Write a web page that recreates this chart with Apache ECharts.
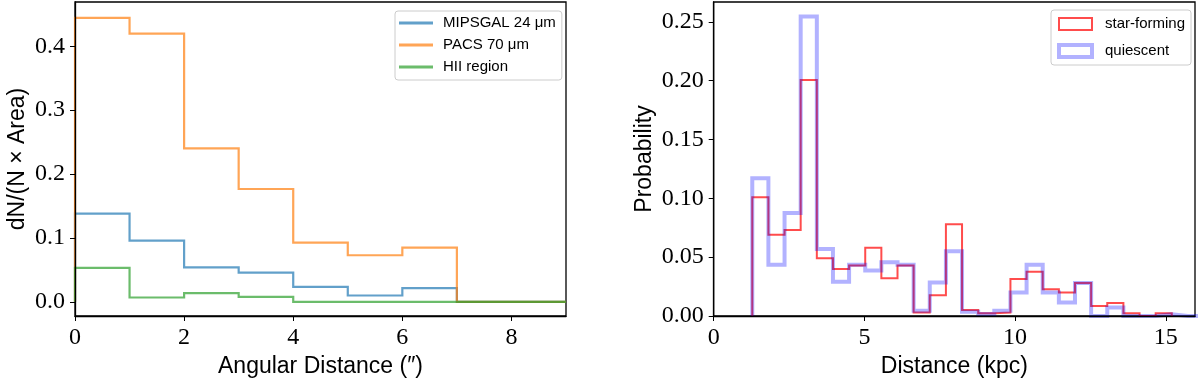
<!DOCTYPE html>
<html>
<head>
<meta charset="utf-8">
<script src="https://cdn.jsdelivr.net/npm/echarts@6/dist/echarts.min.js"></script>
<style>
html,body{margin:0;padding:0;background:#fff;}
#c{width:1200px;height:385px;}
</style>
</head>
<body>
<div id="c"></div>
<script>
// ---- Left panel: angular distance histograms ----
const angEdges = [0, 1, 2, 3, 4, 5, 6, 7, 8, 9];
const mipsgal = [0.138, 0.0958, 0.054, 0.0458, 0.0234, 0.0099, 0.0214, 0, 0];
const pacs = [0.4447, 0.4198, 0.2403, 0.1766, 0.0927, 0.0729, 0.0849, 0, 0];
const hii = [0.053, 0.0068, 0.0135, 0.0078, 0, 0, 0, 0, 0];
const angTicks = [0, 2, 4, 6, 8];
const dnTicks = [0, 0.1, 0.2, 0.3, 0.4];

// ---- Right panel: distance histograms ----
const distEdges = [1.280, 1.815, 2.351, 2.886, 3.422, 3.957, 4.492, 5.028, 5.563, 6.099,
  6.634, 7.169, 7.705, 8.240, 8.776, 9.311, 9.846, 10.382, 10.917, 11.453,
  11.988, 12.523, 13.059, 13.594, 14.130, 14.665, 15.200, 15.736, 16.271];
const starForming = [0.101, 0.069, 0.073, 0.2006, 0.049, 0.040, 0.043, 0.058, 0.032, 0.043,
  0.003, 0.0176, 0.078, 0.005, 0.0023, 0.003, 0.0315, 0.0375, 0.0227, 0.020,
  0.028, 0.0085, 0.011, 0.0023, 0, 0.0023];
const quiescent = [0.117, 0.0435, 0.0875, 0.2545, 0.057, 0.029, 0.0435, 0.0386, 0.0457, 0.0435,
  0.0045, 0.0284, 0.055, 0.0037, 0.0017, 0.0045, 0.020, 0.0435, 0.020, 0.0114,
  0.028, 0, 0.0072, 0, 0, 0.0015, 0, 0];
const distTicks = [0, 5, 10, 15];
const probTicks = [0, 0.05, 0.10, 0.15, 0.20, 0.25];

function outline(edges, vals) {
  const pts = [[edges[0], 0]];
  for (let i = 0; i < vals.length; i++) {
    pts.push([edges[i], vals[i]]);
    pts.push([edges[i + 1], vals[i]]);
  }
  pts.push([edges[vals.length], 0]);
  return pts;
}

const C_BLUE = 'rgba(31,119,180,0.7)';
const C_ORANGE = 'rgba(255,127,14,0.7)';
const C_GREEN = 'rgba(44,160,44,0.7)';
const C_RED = 'rgba(255,0,0,0.7)';
const C_QBLUE = 'rgba(0,0,255,0.3)';

const serif = "'Liberation Serif', 'DejaVu Serif', serif";
const sans = "'Liberation Sans', 'DejaVu Sans', sans-serif";

function xAx(gi, min, max, ticks, name, fmt) {
  return {
    type: 'value', gridIndex: gi, min: min, max: max, z: 5,
    name: name, nameLocation: 'middle', nameGap: 39,
    nameTextStyle: {fontFamily: sans, fontSize: 23, color: '#000'},
    splitLine: {show: false},
    axisLine: {show: true, onZero: false, lineStyle: {color: '#000', width: 1.3}},
    axisTick: {show: true, length: 5, customValues: ticks, lineStyle: {color: '#000', width: 1}},
    axisLabel: {customValues: ticks, margin: 10, fontFamily: serif, fontSize: 24, color: '#000', formatter: fmt}
  };
}
function yAx(gi, min, max, ticks, name, gap, fmt) {
  return {
    type: 'value', gridIndex: gi, min: min, max: max, z: 5,
    name: name, nameLocation: 'middle', nameGap: gap,
    nameTextStyle: {fontFamily: sans, fontSize: 23, color: '#000'},
    splitLine: {show: false},
    axisLine: {show: true, onZero: false, lineStyle: {color: '#000', width: 1.3}},
    axisTick: {show: true, length: 5, customValues: ticks, lineStyle: {color: '#000', width: 1}},
    axisLabel: {customValues: ticks, margin: 10, fontFamily: serif, fontSize: 24, color: '#000', formatter: fmt}
  };
}

function line(name, data, color, width, xi, yi) {
  return {
    name: name, type: 'line', data: data, xAxisIndex: xi, yAxisIndex: yi,
    symbol: 'none', showSymbol: false, animation: false, clip: true,
    color: color, itemStyle: {color: color},
    lineStyle: {color: color, width: width, cap: 'butt', join: 'miter'}
  };
}

const chart = echarts.init(document.getElementById('c'), null, {renderer: 'canvas'});
chart.setOption({
  animation: false,
  backgroundColor: '#fff',
  grid: [
    {left: 75, top: 2, width: 491, height: 314, show: true, borderColor: '#000', borderWidth: 1.3, backgroundColor: 'transparent'},
    {left: 713.7, top: 2, width: 481.3, height: 314, show: true, borderColor: '#000', borderWidth: 1.3, backgroundColor: 'transparent'}
  ],
  xAxis: [
    xAx(0, 0, 9, angTicks, 'Angular Distance (\u2033)', v => String(v)),
    xAx(1, 0, 15.97, distTicks, 'Distance (kpc)', v => String(v))
  ],
  yAxis: [
    yAx(0, -0.0222, 0.4694, dnTicks, 'dN/(N \u00d7 Area)', 46, v => v.toFixed(1)),
    yAx(1, 0, 0.2668, probTicks, 'Probability', 58, v => v.toFixed(2))
  ],
  legend: [
    {
      left: 395, top: 11, orient: 'vertical',
      icon: 'rect', itemWidth: 34, itemHeight: 3, itemGap: 6,
      padding: [4, 6, 5, 4],
      borderColor: '#cccccc', borderWidth: 1, borderRadius: 3,
      backgroundColor: 'rgba(255,255,255,0.8)',
      textStyle: {fontFamily: sans, fontSize: 15, color: '#000', lineHeight: 16, padding: [0, 0, 0, 5]},
      data: [
        {name: 'MIPSGAL 24 \u03bcm', itemStyle: {color: C_BLUE, borderWidth: 0}},
        {name: 'PACS 70 \u03bcm', itemStyle: {color: C_ORANGE, borderWidth: 0}},
        {name: 'HII region', itemStyle: {color: C_GREEN, borderWidth: 0}}
      ]
    },
    {
      left: 1051, top: 10, orient: 'vertical',
      icon: 'rect', itemWidth: 33, itemHeight: 12, itemGap: 11,
      padding: [6, 6, 6, 6],
      borderColor: '#cccccc', borderWidth: 1, borderRadius: 3,
      backgroundColor: 'rgba(255,255,255,0.8)',
      textStyle: {fontFamily: sans, fontSize: 15, color: '#000', lineHeight: 16, padding: [0, 0, 0, 8]},
      data: [
        {name: 'star-forming', itemStyle: {color: 'rgba(0,0,0,0)', borderColor: C_RED, borderWidth: 2}},
        {name: 'quiescent', itemStyle: {color: 'rgba(0,0,0,0)', borderColor: C_QBLUE, borderWidth: 4}}
      ]
    }
  ],
  series: [
    line('MIPSGAL 24 \u03bcm', outline(angEdges, mipsgal), C_BLUE, 2.2, 0, 0),
    line('PACS 70 \u03bcm', outline(angEdges, pacs), C_ORANGE, 2.2, 0, 0),
    line('HII region', outline(angEdges, hii), C_GREEN, 2.2, 0, 0),
    line('star-forming', outline(distEdges, starForming), C_RED, 2, 1, 1),
    line('quiescent', outline(distEdges, quiescent), C_QBLUE, 4, 1, 1)
  ]
});
</script>
</body>
</html>
